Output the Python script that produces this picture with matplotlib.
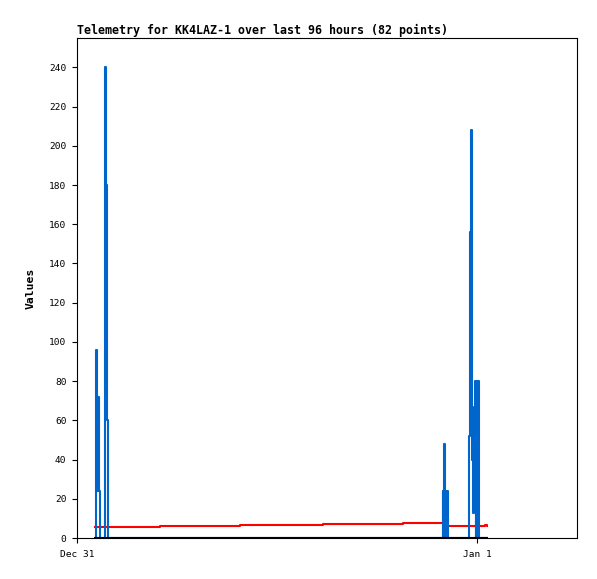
import matplotlib
matplotlib.use("Agg")
import matplotlib.pyplot as plt
import numpy as np

# telemetry series, times in minutes after Dec 31 00:00
start = np.datetime64("2012-12-31T00:00")

blue_minutes = [61, 66, 67, 70, 73, 77, 80, 83, 96, 99, 101, 104, 107, 110,
                1314, 1316, 1319, 1321, 1324, 1326, 1329, 1331, 1334,
                1409, 1411, 1415, 1419, 1422, 1427, 1430, 1434, 1436, 1438,
                1440, 1442, 1444, 1445, 1447, 1480]
blue_values = [0, 0, 48, 96, 24, 72, 24, 0, 0, 96, 240, 180, 60, 0,
               0, 24, 0, 48, 0, 24, 0, 24, 0,
               0, 52, 156, 208, 40, 13, 67, 80, 0, 80,
               0, 80, 0, 80, 0, 0]

red_minutes = [61, 299, 587, 886, 1174, 1332, 1470, 1475, 1480]
red_values = [5.6, 6.1, 6.6, 7.2, 7.7, 5.9, 6.8, 5.9, 5.9]

black_minutes = [61, 1480]
black_values = [0, 0]

y_ticks = list(range(0, 241, 20))
x_tick_labels = ["Dec 31", "Jan 1"]
title = "Telemetry for KK4LAZ-1 over last 96 hours (82 points)"


def to_dates(minutes):
    return start + np.array(minutes).astype("timedelta64[m]")


mono = "DejaVu Sans Mono"

fig = plt.figure(figsize=(5.97, 5.79), dpi=100)
ax = fig.add_axes([77 / 597, 41 / 579, 500 / 597, 500 / 579])

ax.plot(to_dates(red_minutes), red_values, color="#ff0000", lw=1.5,
        drawstyle="steps-post", zorder=2, solid_capstyle="butt")
ax.plot(to_dates(blue_minutes), blue_values, color="#0066cc", lw=1.5,
        drawstyle="steps-post", zorder=3, solid_capstyle="butt")
ax.plot(to_dates(black_minutes), black_values, color="black", lw=1.5,
        zorder=4, solid_capstyle="butt")

ax.set_xlim(start, start + np.timedelta64(30, "h"))
ax.set_ylim(0, 255)

ax.set_yticks(y_ticks)
ax.set_yticklabels([str(v) for v in y_ticks], fontfamily=mono, fontsize=6.8)
ax.set_xticks([start, start + np.timedelta64(24, "h")])
ax.set_xticklabels(x_tick_labels, fontfamily=mono, fontsize=6.8)
ax.tick_params(axis="both", direction="out", length=3.6, width=0.8,
               top=False, right=False)
ax.tick_params(axis="y", pad=4)
ax.tick_params(axis="x", pad=5)

for spine in ax.spines.values():
    spine.set_linewidth(0.8)
    spine.set_color("black")

ax.set_title(title, loc="left", fontfamily=mono, fontweight="bold",
             fontsize=8.35, pad=3)
ax.set_ylabel("Values", fontfamily=mono, fontweight="bold", fontsize=8.2)
ax.yaxis.set_label_coords(-0.082, 0.5)

fig.savefig("out.png", dpi=100)
